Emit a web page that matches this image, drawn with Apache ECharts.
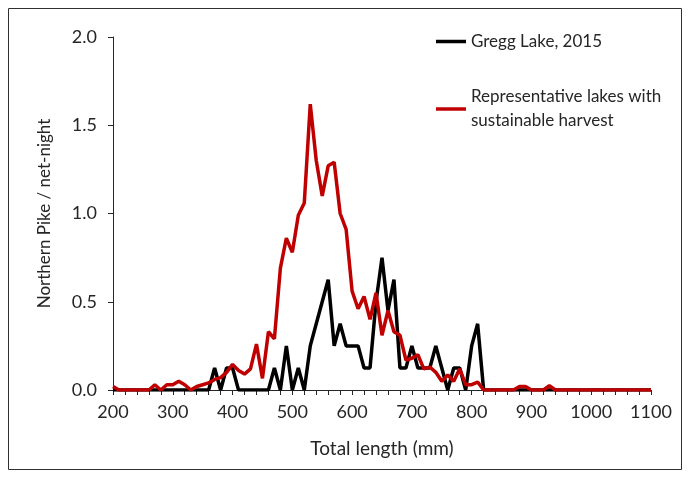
<!DOCTYPE html>
<html>
<head>
<meta charset="utf-8">
<script src="https://cdn.jsdelivr.net/npm/echarts@6/dist/echarts.min.js"></script>
<style>
  html, body { margin: 0; padding: 0; background: #fff; }
  #chart { width: 688px; height: 477px; }
</style>
</head>
<body>
<div id="chart"></div>
<script>
// total length bins (mm)
var lengths = [
  200, 210, 220, 230, 240, 250, 260, 270, 280, 290,
  300, 310, 320, 330, 340, 350, 360, 370, 380, 390,
  400, 410, 420, 430, 440, 450, 460, 470, 480, 490,
  500, 510, 520, 530, 540, 550, 560, 570, 580, 590,
  600, 610, 620, 630, 640, 650, 660, 670, 680, 690,
  700, 710, 720, 730, 740, 750, 760, 770, 780, 790,
  800, 810, 820, 830, 840, 850, 860, 870, 880, 890,
  900, 910, 920, 930, 940, 950, 960, 970, 980, 990,
  1000, 1010, 1020, 1030, 1040, 1050, 1060, 1070, 1080, 1090,
  1100
];

var greggLake = [
  0, 0, 0, 0, 0, 0, 0, 0, 0, 0,
  0, 0, 0, 0, 0, 0, 0, 0.125, 0, 0.125,
  0.125, 0, 0, 0, 0, 0, 0, 0.125, 0, 0.25,
  0, 0.125, 0, 0.25, 0.375, 0.5, 0.625, 0.25, 0.375, 0.25,
  0.25, 0.25, 0.125, 0.125, 0.5, 0.75, 0.45, 0.625, 0.125, 0.125,
  0.25, 0.125, 0.125, 0.125, 0.25, 0.125, 0, 0.125, 0.125, 0,
  0.25, 0.375, 0, 0, 0, 0, 0, 0, 0, 0,
  0, 0, 0, 0, 0, 0, 0, 0, 0, 0,
  0, 0, 0, 0, 0, 0, 0, 0, 0, 0,
  0
];

var representative = [
  0.02, 0, 0, 0, 0, 0, 0, 0.03, 0, 0.03,
  0.03, 0.05, 0.03, 0, 0.02, 0.03, 0.04, 0.06, 0.07, 0.1,
  0.145, 0.11, 0.09, 0.12, 0.26, 0.066, 0.33, 0.29, 0.69, 0.86,
  0.78, 0.99, 1.06, 1.62, 1.3, 1.1, 1.27, 1.29, 1.0, 0.91,
  0.56, 0.46, 0.53, 0.4, 0.55, 0.31, 0.45, 0.33, 0.31, 0.17,
  0.18, 0.2, 0.12, 0.13, 0.1, 0.05, 0.085, 0.05, 0.12, 0.03,
  0.03, 0.045, 0, 0, 0, 0, 0, 0, 0.02, 0.02,
  0, 0, 0, 0.025, 0, 0, 0, 0, 0, 0,
  0, 0, 0, 0, 0, 0, 0, 0, 0, 0,
  0
];

var xTickLabels = ['200', '300', '400', '500', '600', '700', '800', '900', '1000', '1100'];
var yTickLabels = ['0.0', '0.5', '1.0', '1.5', '2.0'];

var font = 'Lato';
var ink = '#262626';

function pairs(values) {
  return lengths.map(function (l, i) { return [l, values[i]]; });
}

var chart = echarts.init(document.getElementById('chart'));
chart.setOption({
  animation: false,
  graphic: [{
    type: 'rect',
    silent: true,
    shape: { x: 8.5, y: 8.5, width: 673, height: 461 },
    style: { fill: null, stroke: '#303030', lineWidth: 1 }
  }],
  grid: { left: 113, right: 37, top: 37, bottom: 87 },
  legend: [{
    data: ['Gregg Lake, 2015'],
    left: 431, top: 28,
    icon: 'rect', itemWidth: 30, itemHeight: 3.5,
    selectedMode: false,
    textStyle: { fontFamily: font, fontSize: 17, color: ink }
  }, {
    data: ['Representative lakes with sustainable harvest'],
    left: 431, top: 68,
    icon: 'rect', itemWidth: 30, itemHeight: 3.5,
    selectedMode: false,
    formatter: function () { return 'Representative lakes with\nsustainable harvest'; },
    textStyle: { fontFamily: font, fontSize: 17, color: ink, lineHeight: 24, padding: [24, 0, 0, 0] }
  }],
  xAxis: {
    type: 'value',
    min: 200, max: 1100, interval: 100,
    name: 'Total length (mm)',
    nameLocation: 'middle', nameGap: 49,
    nameTextStyle: { fontFamily: font, fontSize: 19, color: ink },
    axisLine: { show: true, lineStyle: { color: ink, width: 1 } },
    axisTick: { show: true, length: 5, lineStyle: { color: ink } },
    minorTick: { show: true, splitNumber: 5, length: 5, lineStyle: { color: ink } },
    splitLine: { show: false },
    axisLabel: {
      margin: 13, fontFamily: font, fontSize: 18, color: ink,
      formatter: function (v) { return xTickLabels[(v - 200) / 100]; }
    }
  },
  yAxis: {
    type: 'value',
    min: 0, max: 2, interval: 0.5,
    name: 'Northern Pike / net-night',
    nameLocation: 'middle', nameGap: 60,
    nameTextStyle: { fontFamily: font, fontSize: 17, color: ink },
    axisLine: { show: true, lineStyle: { color: ink, width: 1 } },
    axisTick: { show: true, length: 5, lineStyle: { color: ink } },
    splitLine: { show: false },
    axisLabel: {
      margin: 16, fontFamily: font, fontSize: 18, color: ink,
      formatter: function (v) { return yTickLabels[Math.round(v / 0.5)]; }
    }
  },
  series: [{
    name: 'Gregg Lake, 2015',
    type: 'line',
    data: pairs(greggLake),
    symbol: 'none',
    lineStyle: { color: '#000000', width: 3.5 },
    itemStyle: { color: '#000000' }
  }, {
    name: 'Representative lakes with sustainable harvest',
    type: 'line',
    data: pairs(representative),
    symbol: 'none',
    lineStyle: { color: '#C00000', width: 3.5 },
    itemStyle: { color: '#C00000' }
  }]
});
</script>
</body>
</html>
